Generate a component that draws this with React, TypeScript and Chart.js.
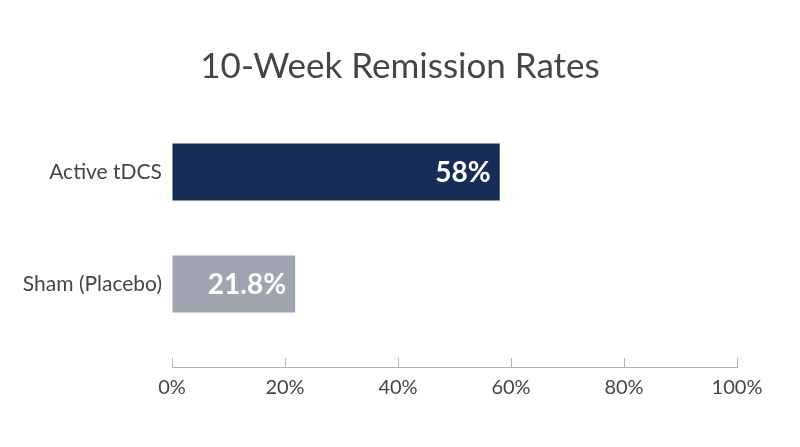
import React, { useEffect, useRef } from "react";
import { Chart, registerables } from "chart.js";

Chart.register(...registerables);

const categories = ["Active tDCS", "Sham (Placebo)"];
const rates = [58, 21.8];
const barColors = ["#172c57", "#a0a4b0"];
const xTicks = [0, 20, 40, 60, 80, 100];

const TEXT = "#454545";
const AXIS = "#b3b3b3";

// white value labels inside the end of each bar
const valueLabels = {
  id: "valueLabels",
  afterDatasetsDraw(chart: any) {
    const ctx = chart.ctx;
    const meta = chart.getDatasetMeta(0);
    ctx.save();
    ctx.font = "bold 28px Lato";
    ctx.fillStyle = "#ffffff";
    ctx.textAlign = "right";
    ctx.textBaseline = "middle";
    meta.data.forEach((bar: any, i: number) => {
      ctx.fillText(rates[i] + "%", bar.x - 9, bar.y + 1);
    });
    ctx.restore();
  },
};

const App = () => {
  const canvasRef = useRef<HTMLCanvasElement>(null);

  useEffect(() => {
    if (!canvasRef.current) return;
    const chart = new Chart(canvasRef.current, {
      type: "bar",
      data: {
        datasets: [
          {
            data: rates.map((v, i) => ({ x: v, y: i })),
            backgroundColor: barColors,
            borderWidth: 0,
            categoryPercentage: 1,
            barPercentage: 0.51,
          },
        ],
      },
      options: {
        indexAxis: "y",
        animation: false,
        responsive: true,
        maintainAspectRatio: false,
        layout: { padding: { left: 0, right: 0, top: 0, bottom: 29 } },
        scales: {
          x: {
            type: "linear",
            position: "bottom",
            min: 0,
            max: 100,
            afterBuildTicks: (scale: any) => {
              scale.ticks = xTicks.map((v) => ({ value: v }));
            },
            afterFit: (scale: any) => {
              scale.paddingRight = 63;
            },
            ticks: {
              callback: (v: any) => v + "%",
              color: TEXT,
              font: { family: "Lato", size: 20 },
              padding: 18,
              maxRotation: 0,
            },
            grid: {
              drawOnChartArea: false,
              drawTicks: true,
              tickLength: -9,
              color: AXIS,
              lineWidth: 1,
            },
            border: { display: true, color: AXIS, width: 1 },
          },
          y: {
            type: "linear",
            reverse: true,
            offset: false,
            min: -0.5,
            max: 1.741,
            afterBuildTicks: (scale: any) => {
              scale.ticks = categories.map((_, i) => ({ value: i }));
            },
            afterFit: (scale: any) => {
              scale.width = 172;
            },
            ticks: {
              callback: (v: any) => categories[v],
              color: TEXT,
              font: { family: "Lato", size: 21 },
              padding: 10,
            },
            grid: { display: false, drawTicks: false },
            border: { display: false },
          },
        },
        plugins: {
          legend: { display: false },
          tooltip: { enabled: false },
          title: {
            display: true,
            text: "10-Week Remission Rates",
            color: TEXT,
            font: { family: "Lato", size: 35, weight: "normal" },
            padding: { top: 46, bottom: 28 },
          },
        },
      },
      plugins: [valueLabels],
    });
    return () => chart.destroy();
  }, []);

  return (
    <div
      style={{
        position: "fixed",
        left: 0,
        top: 0,
        width: 800,
        height: 447,
        background: "#ffffff",
      }}
    >
      <canvas ref={canvasRef} />
    </div>
  );
};

export default App;
